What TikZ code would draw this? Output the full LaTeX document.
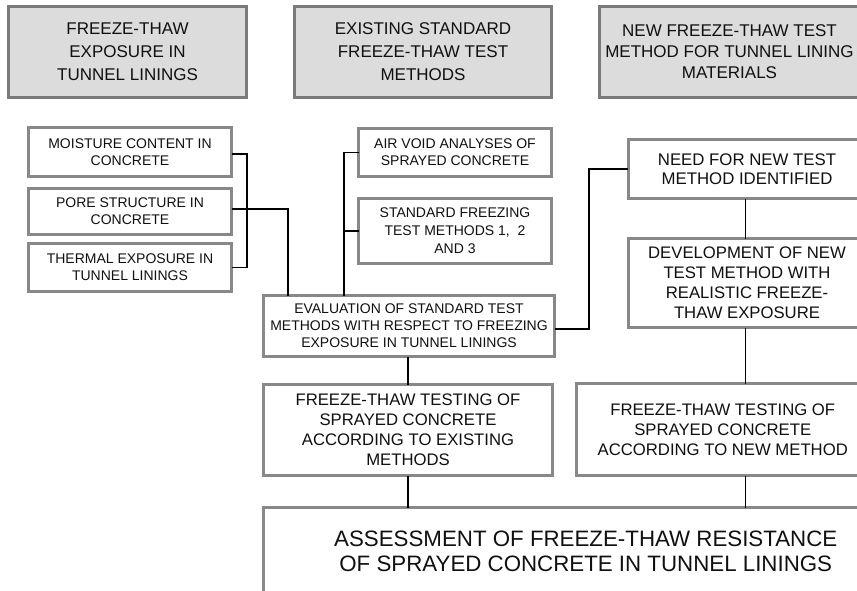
\documentclass[tikz,border=0pt]{standalone}
\usepackage{fontspec}
\setmainfont{Liberation Sans}
\definecolor{hdrfill}{HTML}{DCDCDC}
\definecolor{hdrline}{HTML}{7A7A7A}
\definecolor{boxline}{HTML}{888888}
\definecolor{ink}{HTML}{101010}
\begin{document}
\begin{tikzpicture}[x=1pt,y=-1pt,
  every node/.style={inner sep=0pt, outer sep=0pt, text=ink, align=center},
  hdr/.style={draw=hdrline, fill=hdrfill, line width=3pt,
    font=\fontsize{17}{23}\selectfont},
  stepbox/.style={draw=boxline, fill=white, line width=3pt},
  small/.style={stepbox, font=\fontsize{14}{17}\selectfont},
  mid/.style={stepbox, font=\fontsize{16.7}{20}\selectfont},
  conn/.style={draw=black, line width=1.3pt}]
\clip (0,0) rectangle (857,591);
\fill[white] (0,0) rectangle (857,591);

% column headers
\node[hdr, minimum width=238, minimum height=91] (h1) at (127.5,52)
  {FREEZE-THAW\\EXPOSURE IN\\TUNNEL LININGS};
\node[hdr, minimum width=257, minimum height=91] (h2) at (423,52)
  {EXISTING STANDARD\\FREEZE-THAW TEST\\METHODS};
\node[hdr, minimum width=261, minimum height=91,
  font=\fontsize{17}{21}\selectfont] (h3) at (729.5,52)
  {NEW FREEZE-THAW TEST\\METHOD FOR TUNNEL LINING\\MATERIALS};

% left column
\node[small, minimum width=203, minimum height=49] (moist) at (130,152)
  {MOISTURE CONTENT IN\\CONCRETE};
\node[small, minimum width=203, minimum height=46] (pore) at (130,211.5)
  {PORE STRUCTURE IN\\CONCRETE};
\node[small, minimum width=203, minimum height=48] (therm) at (130,267.5)
  {THERMAL EXPOSURE IN\\TUNNEL LININGS};

% middle column
\node[small, minimum width=193, minimum height=48] (air) at (455,152.5)
  {AIR VOID ANALYSES OF\\SPRAYED CONCRETE};
\node[small, minimum width=193, minimum height=65,
  font=\fontsize{14}{18}\selectfont] (std) at (455,231)
  {STANDARD FREEZING\\TEST METHODS 1,\ \ 2\\AND 3};
\node[small, minimum width=291, minimum height=61] (eval) at (409,326)
  {EVALUATION OF STANDARD TEST\\METHODS WITH RESPECT TO FREEZING\\EXPOSURE IN TUNNEL LININGS};

% right column
\node[mid, minimum width=237.5, minimum height=59,
  font=\fontsize{16.8}{19}\selectfont] (need) at (747,169)
  {NEED FOR NEW TEST\\METHOD IDENTIFIED};
\node[mid, minimum width=237.5, minimum height=89] (dev) at (747,283)
  {DEVELOPMENT OF NEW\\TEST METHOD WITH\\REALISTIC FREEZE-\\THAW EXPOSURE};

% testing boxes
\node[mid, minimum width=289, minimum height=91] (ftx) at (408,430)
  {FREEZE-THAW TESTING OF\\SPRAYED CONCRETE\\ACCORDING TO EXISTING\\METHODS};
\node[mid, minimum width=292.5, minimum height=92] (ftn) at (722.75,429.5)
  {FREEZE-THAW TESTING OF\\SPRAYED CONCRETE\\ACCORDING TO NEW METHOD};

% final assessment
\node[stepbox, minimum width=644.5, minimum height=87,
  font=\fontsize{22.3}{25}\selectfont] (assess) at (585.75,551)
  {ASSESSMENT OF FREEZE-THAW RESISTANCE\\OF SPRAYED CONCRETE IN TUNNEL LININGS};

% connector columns
\coordinate (lb) at (247,0);
\coordinate (pj) at (288,0);
\coordinate (aj) at (344,0);
\coordinate (ej) at (589,0);
\coordinate (lc) at (408,0);
\coordinate (rc) at (745.5,0);

% connectors
\draw[conn] ([yshift=-2pt]moist.east) -| (lb |- therm.east) -- (therm.east);
\draw[conn] ([yshift=2.5pt]pore.east) -| (pj |- eval.north);
\draw[conn] (air.west) -| (aj |- eval.north);
\draw[conn] (std.west) -- (aj |- std.west);
\draw[conn] ([yshift=-3pt]eval.east) -| (ej |- need.west) -- (need.west);
\draw[conn] (rc |- need.south) -- (rc |- dev.north);
\draw[conn] (rc |- dev.south) -- (rc |- ftn.north);
\draw[conn] (lc |- eval.south) -- (lc |- ftx.north);
\draw[conn] (lc |- ftx.south) -- (lc |- assess.north);
\draw[conn] (rc |- ftn.south) -- (rc |- assess.north);
\end{tikzpicture}
\end{document}
